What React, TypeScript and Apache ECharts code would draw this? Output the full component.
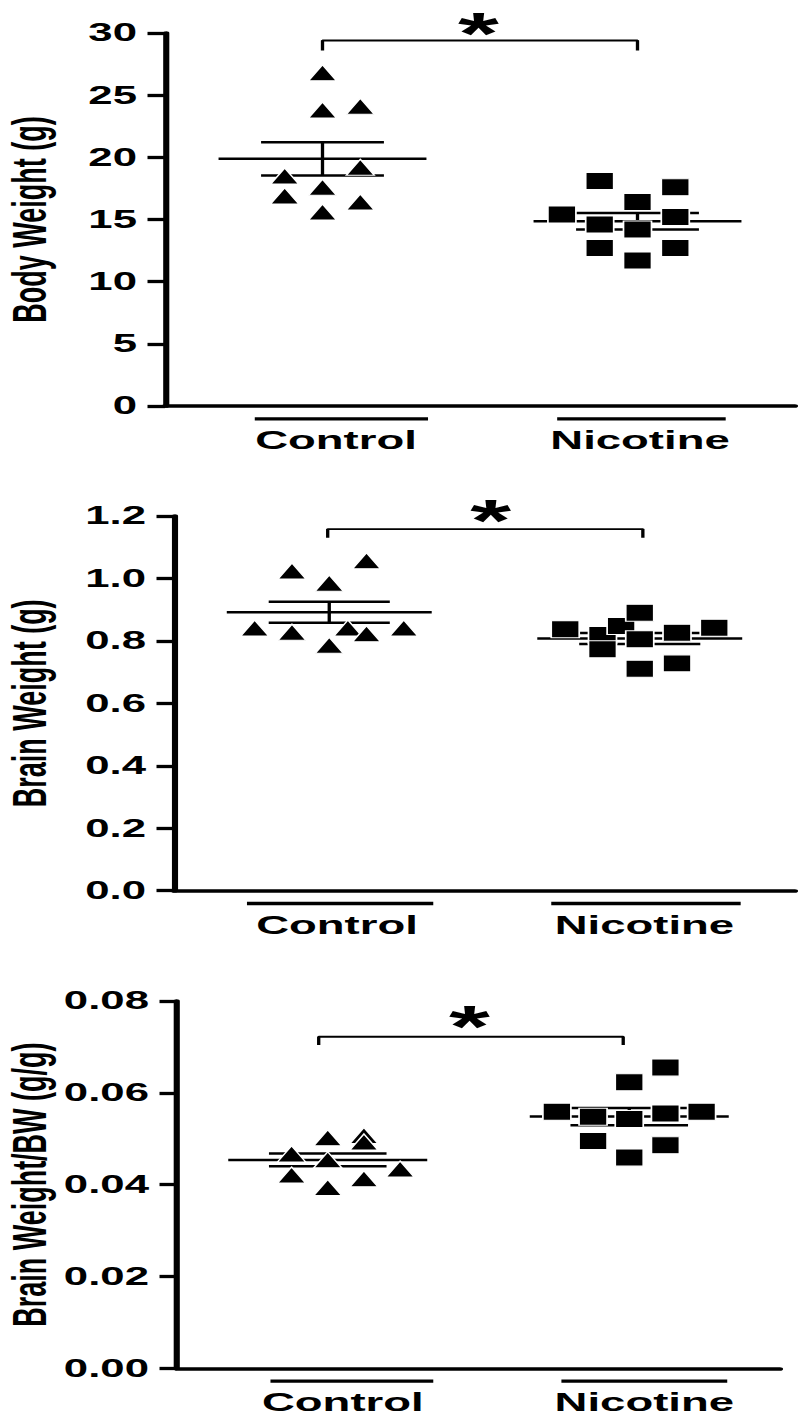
import React, { useEffect, useRef } from "react";
import * as echarts from "echarts";

// The original figure is horizontally stretched; we draw it narrower and stretch it back.
const S = 1.75;
const PAGE_W = 800;
const PAGE_H = 1420;
const CW = PAGE_W / S;

const groups = ["Control", "Nicotine"];
const groupCenters = [1, 3];
const jitterStep = 0.24;
const MEAN_HALF = 0.66;
const SEM_HALF = 0.39;

// Panel 1: body weight (g)
const bodyControl = [26.8, 23.8, 24.1, 18.5, 19.2, 17.6, 16.9, 16.4, 15.6];
const bodyControlCol = [0, 0, 1, -1, 1, 0, -1, 1, 0];
const bodyNicotine = [18.1, 17.6, 16.4, 15.4, 15.2, 14.6, 14.2, 12.7, 12.7, 11.7];
const bodyNicotineCol = [-1, 1, 0, -2, 1, -1, 0, -1, 1, 0];

// Panel 2: brain weight (g)
const brainControl = [1.024, 0.985, 1.057, 0.841, 0.828, 0.786, 0.841, 0.823, 0.841];
const brainControlCol = [-1, 0, 1, -2, -1, 0, 0.5, 1, 2];
const brainNicotine = [0.837, 0.819, 0.773, 0.848, 0.89, 0.805, 0.826, 0.842, 0.711, 0.728];
const brainNicotineCol = [-2, -1, -1, -0.5, 0, 0, 1, 2, 0, 1];

// Panel 3: brain weight / body weight (g/g)
const ratioControl = [0.0467, 0.0421, 0.0502, 0.0454, 0.0394, 0.0507, 0.0493, 0.0413, 0.0434];
const ratioControlCol = [-1, -1, 0, 0, 0, 1, 1, 1, 2];
const ratioNicotine = [0.0559, 0.0548, 0.0495, 0.0623, 0.0543, 0.0459, 0.0655, 0.0555, 0.0486, 0.0559];
const ratioNicotineCol = [-2, -1, -1, 0, 0, 0, 1, 1, 1, 2];

const yNames = ["Body Weight (g)", "Brain Weight (g)", "Brain Weight/BW (g/g)"];
const yMax = [30, 1.2, 0.08];
const yInterval = [5, 0.2, 0.02];
const yDecimals = [0, 1, 2];

// significance brackets [x, y] and asterisk positions
const brackets = [
  [[1, 28.6], [1, 29.4], [3, 29.4], [3, 28.6]],
  [[0.99, 1.13], [0.99, 1.158], [3.02, 1.158], [3.02, 1.13]],
  [[0.94, 0.0704], [0.94, 0.0722], [2.96, 0.0722], [2.96, 0.0704]],
];
const stars = [[1.99, 30.9], [2.04, 1.221], [1.94, 0.0769]];

// category label positions and group overlines (x-axis units)
const labelPos = [[1.086, 3.016], [1.05, 3.03], [1.1, 3.1]];
const overlines = [
  [[0.57, 1.67], [2.49, 3.56]],
  [[0.47, 1.67], [2.43, 3.65]],
  [[0.62, 1.7], [2.55, 3.65]],
];

// layout (page px; x divided by S)
const grids = [
  { left: 165 / S, top: 33, width: (795 - 165) / S, height: 373 },
  { left: 174 / S, top: 516, width: (795 - 174) / S, height: 374.7 },
  { left: 177 / S, top: 1001, width: (780 - 177) / S, height: 367.3 },
];
const nameGaps = [64, 69, 71];

const panels = [
  { control: bodyControl, controlCol: bodyControlCol, nicotine: bodyNicotine, nicotineCol: bodyNicotineCol },
  { control: brainControl, controlCol: brainControlCol, nicotine: brainNicotine, nicotineCol: brainNicotineCol },
  { control: ratioControl, controlCol: ratioControlCol, nicotine: ratioNicotine, nicotineCol: ratioNicotineCol },
];

const FONT = "'Liberation Sans', Arial, Helvetica, sans-serif";

function meanSem(v: number[]) {
  const n = v.length;
  const m = v.reduce((a, b) => a + b, 0) / n;
  const sd = Math.sqrt(v.reduce((a, b) => a + (b - m) * (b - m), 0) / (n - 1));
  return [m, sd / Math.sqrt(n)];
}

export default function App() {
  const ref = useRef<HTMLDivElement>(null);
  useEffect(() => {
    if (!ref.current) return;
    const chart = echarts.init(ref.current, undefined, { renderer: "svg" });
    const xAxis: any[] = [];
    const yAxis: any[] = [];
    const series: any[] = [];
    panels.forEach((p, i) => {
      xAxis.push({
        gridIndex: i,
        type: "value",
        min: 0,
        max: 4,
        splitLine: { show: false },
        axisTick: { show: false },
        axisLine: { show: true, lineStyle: { color: "#000", width: 3.5 } },
        axisLabel: {
          show: true,
          customValues: labelPos[i],
          formatter: (v: number) => {
            const k = labelPos[i].findIndex((q) => Math.abs(q - v) < 1e-6);
            return k >= 0 ? groups[k] : "";
          },
          margin: 21,
          fontSize: 26,
          fontWeight: "bold",
          fontFamily: FONT,
          color: "#000",
        },
      });
      yAxis.push({
        gridIndex: i,
        type: "value",
        min: 0,
        max: yMax[i],
        interval: yInterval[i],
        splitLine: { show: false },
        axisLine: { show: true, lineStyle: { color: "#000", width: 3.5 } },
        axisTick: { show: true, length: 10, lineStyle: { color: "#000", width: 3.3 } },
        axisLabel: {
          margin: 16,
          fontSize: 25,
          fontWeight: "bold",
          fontFamily: FONT,
          color: "#000",
          formatter: (v: number) => v.toFixed(yDecimals[i]),
        },
        name: yNames[i],
        nameLocation: "middle",
        nameGap: nameGaps[i],
        nameMoveOverlap: false,
        nameTextStyle: { fontSize: 27, fontWeight: "bold", fontFamily: FONT, color: "#000" },
      });
      const stats = [meanSem(p.control), meanSem(p.nicotine)].map((ms, k) => [groupCenters[k], ms[0], ms[1]]);
      series.push({
        type: "custom",
        xAxisIndex: i,
        yAxisIndex: i,
        z: 2,
        clip: false,
        data: stats,
        renderItem: (_params: any, api: any) => {
          const cx = api.value(0);
          const m = api.value(1);
          const se = api.value(2);
          const a = api.coord([cx - MEAN_HALF, m]);
          const b = api.coord([cx + MEAN_HALF, m]);
          const u1 = api.coord([cx - SEM_HALF, m + se]);
          const u2 = api.coord([cx + SEM_HALF, m + se]);
          const l1 = api.coord([cx - SEM_HALF, m - se]);
          const l2 = api.coord([cx + SEM_HALF, m - se]);
          const vt = api.coord([cx, m + se]);
          const vb = api.coord([cx, m - se]);
          const st = { stroke: "#000", lineWidth: 2.5 };
          return {
            type: "group",
            children: [
              { type: "line", shape: { x1: a[0], y1: a[1], x2: b[0], y2: b[1] }, style: st },
              { type: "line", shape: { x1: u1[0], y1: u1[1], x2: u2[0], y2: u2[1] }, style: st },
              { type: "line", shape: { x1: l1[0], y1: l1[1], x2: l2[0], y2: l2[1] }, style: st },
              { type: "line", shape: { x1: vt[0], y1: vt[1], x2: vb[0], y2: vb[1] }, style: { stroke: "#000", lineWidth: 1.9 } },
            ],
          };
        },
      });
      series.push({
        type: "scatter",
        name: groups[0],
        xAxisIndex: i,
        yAxisIndex: i,
        z: 3,
        symbol: "triangle",
        symbolSize: [16, 16],
        itemStyle: { color: "#000", opacity: 1, borderColor: "#fff", borderWidth: 1 },
        data: p.control.map((v, k) => [groupCenters[0] + p.controlCol[k] * jitterStep, v]),
      });
      series.push({
        type: "scatter",
        name: groups[1],
        xAxisIndex: i,
        yAxisIndex: i,
        z: 3,
        symbol: "rect",
        symbolSize: [16, 17],
        itemStyle: { color: "#000", opacity: 1, borderColor: "#fff", borderWidth: 1 },
        data: p.nicotine.map((v, k) => [groupCenters[1] + p.nicotineCol[k] * jitterStep, v]),
      });
      series.push({
        type: "line",
        xAxisIndex: i,
        yAxisIndex: i,
        z: 2,
        clip: false,
        symbol: "none",
        lineStyle: { color: "#000", width: 1.9 },
        data: brackets[i],
      });
      series.push({
        type: "scatter",
        xAxisIndex: i,
        yAxisIndex: i,
        clip: false,
        symbolSize: 1,
        itemStyle: { color: "rgba(255,255,255,0)", opacity: 1 },
        label: {
          show: true,
          position: "inside",
          formatter: "*",
          fontSize: 60,
          fontWeight: "bold",
          fontFamily: FONT,
          color: "#000",
          opacity: 1,
          offset: [0, 11],
        },
        data: [stars[i]],
      });
    });
    chart.setOption({
      animation: false,
      backgroundColor: "#fff",
      grid: grids.map((g) => ({ ...g, containLabel: false, outerBoundsMode: "none" })),
      xAxis,
      yAxis,
      series,
      tooltip: { show: false },
    });
    const graphics: any[] = [];
    overlines.forEach((pair, i) => {
      pair.forEach((seg) => {
        const p1 = chart.convertToPixel({ gridIndex: i } as any, [seg[0], 0]) as number[];
        const p2 = chart.convertToPixel({ gridIndex: i } as any, [seg[1], 0]) as number[];
        const y = p1[1] + 12.8;
        graphics.push({
          type: "line",
          shape: { x1: p1[0], y1: y, x2: p2[0], y2: y },
          style: { stroke: "#000", lineWidth: 3.3 },
        });
      });
    });
    chart.setOption({ graphic: graphics });
    return () => chart.dispose();
  }, []);
  return (
    <div
      ref={ref}
      style={{
        position: "absolute",
        left: 0,
        top: 0,
        width: CW,
        height: PAGE_H,
        transform: `scaleX(${S})`,
        transformOrigin: "0 0",
        background: "#fff",
      }}
    />
  );
}
